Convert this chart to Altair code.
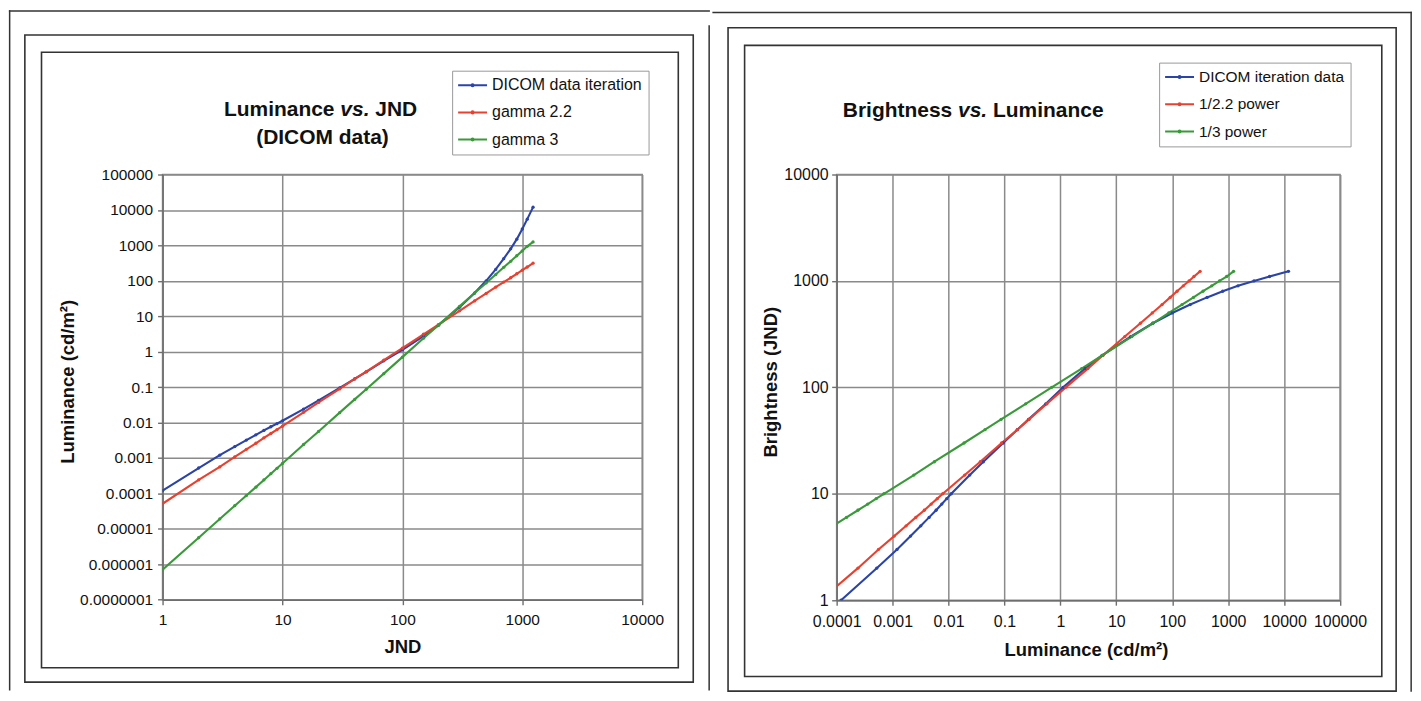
import altair as alt
import pandas as pd

# ---------------- data ----------------
jnd = [1, 2, 3, 4, 5, 6, 7, 8, 9, 10, 15, 20, 30, 40, 50, 70, 100, 150, 200,
       300, 400, 500, 600, 700, 800, 900, 1000, 1100, 1230]
lum_dicom = [1.2e-4, 5.2e-4, 1.2e-3, 2.1e-3, 3.2e-3, 4.5e-3, 6.0e-3, 7.6e-3, 9.3e-3,
             1.12e-2, 2.4e-2, 4.2e-2, 9.5e-2, 0.17, 0.27, 0.55, 1.12, 2.75, 5.6,
             18, 45, 100, 210, 420, 800, 1500, 2900, 5500, 12000]
lum_gamma22 = [5.1e-5, 2.4e-4, 5.6e-4, 1.07e-3, 1.75e-3, 2.6e-3, 3.7e-3, 4.9e-3, 6.3e-3,
               7.9e-3, 1.95e-2, 3.7e-2, 8.9e-2, 0.17, 0.275, 0.575, 1.25, 3.1, 5.8,
               14.2, 27, 44, 66, 92, 122, 158, 200, 245, 315]
lum_gamma3 = [7e-7, 5.6e-6, 1.9e-5, 4.5e-5, 8.7e-5, 1.5e-4, 2.4e-4, 3.6e-4, 5.1e-4,
              7e-4, 2.4e-3, 5.6e-3, 1.9e-2, 4.5e-2, 8.7e-2, 0.24, 0.7, 2.4, 5.6,
              19, 45, 87, 150, 240, 355, 510, 700, 940, 1250]

left_names = ["DICOM data iteration", "gamma 2.2", "gamma 3"]
right_names = ["DICOM iteration data", "1/2.2 power", "1/3 power"]
colors = ["#2b44a8", "#e8412f", "#3a9a3a"]

left_x_ticks = [1, 10, 100, 1000, 10000]
left_y_ticks = [1e-7, 1e-6, 1e-5, 1e-4, 1e-3, 1e-2, 0.1, 1, 10, 100, 1000, 10000, 100000]
right_x_ticks = [1e-4, 1e-3, 1e-2, 0.1, 1, 10, 100, 1000, 10000, 100000]
right_y_ticks = [1, 10, 100, 1000, 10000]

# ---------------- styling ----------------
FONT = "Liberation Sans"
INK = "#111111"
FRAME = "#333333"
GRID = "#8a8a8a"
AXIS = "#6e6e6e"
SYMBOL = "M-2,0H2M-0.14,0A0.14,0.14,0,1,0,0.14,0A0.14,0.14,0,1,0,-0.14,0"

one = pd.DataFrame({"k": [0]})


def series_frame(names):
    parts = []
    for name, vals in zip(names, [lum_dicom, lum_gamma22, lum_gamma3]):
        parts.append(pd.DataFrame({"JND": jnd, "L": vals, "series": name}))
    return pd.concat(parts, ignore_index=True)


def bar(x, x2, y, y2):
    # a frame line drawn as a thin filled rectangle (exact bounds, no stroke)
    return alt.Chart(one).mark_rect(color=FRAME).encode(
        x=alt.value(x), x2=alt.value(x2), y=alt.value(y), y2=alt.value(y2))


def box(x, x2, y, y2):
    return alt.Chart(one).mark_rect(fill="transparent", stroke=FRAME, strokeWidth=1.6).encode(
        x=alt.value(x), x2=alt.value(x2), y=alt.value(y), y2=alt.value(y2))


def word(text, x, y, align, italic=False):
    kw = dict(text=text, font=FONT, fontSize=21, fontWeight="bold", color=INK,
              align=align, baseline="middle")
    if italic:
        kw["fontStyle"] = "italic"
    return alt.Chart(one).mark_text(**kw).encode(x=alt.value(x), y=alt.value(y))


def axis(values, fmt, title, size, **kw):
    return alt.Axis(values=values, format=fmt, title=title, grid=True, gridColor=GRID,
                    gridWidth=1.5, domainColor=AXIS, domainWidth=1.5, tickColor=AXIS,
                    tickWidth=1.4, tickSize=5, labelFont=FONT, labelFontSize=size,
                    labelColor=INK, labelFlush=False, labelOverlap=False, titleFont=FONT,
                    titleFontSize=18.5, titleFontWeight="bold", titleColor=INK,
                    titleBaseline="middle", titleAlign="center", **kw)


def legend(x, y, size):
    return alt.Legend(title=None, orient="none", legendX=x, legendY=y, direction="vertical",
                      fillColor="white", strokeColor="#9a9a9a", padding=6, rowPadding=10.3,
                      symbolType=SYMBOL, symbolSize=210.25, symbolStrokeWidth=2,
                      symbolOffset=6, labelFont=FONT, labelFontSize=size, labelColor=INK,
                      labelOffset=11, labelLimit=400)


def curves(df, x, y, xdom, ydom, xaxis, yaxis, names, leg):
    return alt.Chart(df).mark_line(
        strokeWidth=2.1, clip=True,
        point=alt.OverlayMarkDef(filled=True, size=11, clip=True),
    ).encode(
        x=alt.X(f"{x}:Q", scale=alt.Scale(type="log", domain=xdom, nice=False), axis=xaxis),
        y=alt.Y(f"{y}:Q", scale=alt.Scale(type="log", domain=ydom, nice=False), axis=yaxis),
        color=alt.Color("series:N", scale=alt.Scale(domain=names, range=colors), legend=leg),
        order=alt.Order("JND:Q"),
    )


# ---------------- left panel ----------------
left_curves = curves(
    series_frame(left_names), "JND", "L", [1, 10000], [1e-7, 100000],
    axis(left_x_ticks, ".7~f", "JND", 15.5, labelPadding=8, titleX=240.5, titleY=47),
    axis(left_y_ticks, ".7~f", "Luminance (cd/m²)", 15.5, labelPadding=5,
         titleX=-95, titleY=207.4, titleAngle=270),
    left_names, legend(290.4, -104.1, 16),
)

left = alt.layer(
    bar(-154.1, 548.9, -164.6, -163.1),     # outer top line
    bar(-154.1, -152.6, -164.6, 517.4),     # outer left line
    bar(547.4, 548.9, -149.6, 517.4),       # divider
    box(-138.1, 532.2, -139.9, 509.1),
    box(-121.4, 517.2, -122.6, 494.7),
    word("Luminance", 172.4, -64.4, "right"),
    word("vs.", 178.3, -64.4, "left", italic=True),
    word("JND", 213.3, -64.4, "left"),
    word("(DICOM data)", 160.4, -36.4, "center"),
    left_curves,
).properties(width=481, height=426.4)

# ---------------- right panel ----------------
right_curves = curves(
    series_frame(right_names), "L", "JND", [1e-4, 100000], [1, 10000],
    axis(right_x_ticks, ".4~f", "Luminance (cd/m²)", 16, labelPadding=8.5,
         titleX=250, titleY=49.7),
    axis(right_y_ticks, "~f", "Brightness (JND)", 16, labelPadding=3.5,
         titleX=-66.6, titleY=207.8, titleAngle=270),
    right_names, legend(323.4, -112.2, 15.5),
)

right = alt.layer(
    bar(-124.6, 576.9, -163.2, -161.7),     # outer top line
    bar(575.4, 576.9, -163.2, 518.8),       # outer right line
    box(-108.9, 561.1, -147.2, 518.1),
    box(-92.3, 546.7, -129.5, 503.5),
    word("Brightness", 115.9, -64.0, "right"),
    word("vs.", 121.7, -64.0, "left", italic=True),
    word("Luminance", 156.8, -64.0, "left"),
    right_curves,
).properties(width=504.8, height=426.9)

chart = alt.hconcat(left, right, spacing=0).resolve_scale(
    x="independent", y="independent", color="independent"
).resolve_legend(color="independent").properties(
    padding=0, background="white"
).configure_view(stroke=GRID, strokeWidth=1.5)

chart.save("out.html", embed_options={"renderer": "svg", "actions": False})
